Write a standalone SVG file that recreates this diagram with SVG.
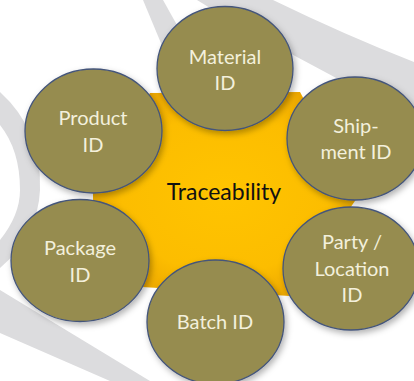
<svg xmlns="http://www.w3.org/2000/svg" width="414" height="381" viewBox="0 0 414 381">
  <defs>
    <style>
      .wm { fill: #DCDCDE; }
      .node { fill: #968C50; stroke: #44557A; stroke-width: 1.3; filter: url(#shadow); }
      .lbl { font-family: Lato, "Open Sans", "Liberation Sans", sans-serif; font-size: 20px; fill: #F3F0DC; text-anchor: middle; }
      .core-lbl { font-family: Lato, "Open Sans", "Liberation Sans", sans-serif; font-size: 23px; fill: #111111; text-anchor: middle; }
    </style>
    <radialGradient id="coreGrad" cx="50%" cy="50%" r="60%">
      <stop offset="0%" stop-color="#FFC400"/>
      <stop offset="65%" stop-color="#FCBD00"/>
      <stop offset="100%" stop-color="#E9A200"/>
    </radialGradient>
    <filter id="shadow" x="-20%" y="-20%" width="150%" height="150%">
      <feDropShadow dx="2" dy="3" stdDeviation="3" flood-color="#000000" flood-opacity="0.3"/>
    </filter>
  </defs>
  <rect width="414" height="381" fill="#FFFFFF"/>
  <g id="watermark">
    <path class="wm" d="M143,0 L163,0 L182,34 L168,60 Z"/>
    <path class="wm" d="M197,0 L273,0 Q345,35 414,62 L414,125 L340,80 L297,57 Q245,30 197,0 Z"/>
    <path class="wm" d="M0,92 Q42,130 40,190 Q38,235 0,268 L0,240 Q20,215 20,190 Q20,150 0,125 Z"/>
    <path class="wm" d="M0,290 L0,333 L110,381 L150,381 Z"/>
  </g>
  <g id="core">
    <path d="M150,93 L300,92 L357,198 L290,296 L142,287 L93,202 L93,190 Z" fill="url(#coreGrad)"/>
    <text class="core-lbl" x="224" y="200">Traceability</text>
  </g>
  <g id="connectors"/>
  <g id="material">
    <ellipse class="node" cx="225" cy="68.5" rx="68" ry="62"/>
    <text class="lbl" x="225" y="64">Material</text>
    <text class="lbl" x="225" y="90">ID</text>
  </g>
  <g id="product">
    <ellipse class="node" cx="93.5" cy="131" rx="68.5" ry="62"/>
    <text class="lbl" x="93" y="125">Product</text>
    <text class="lbl" x="93" y="152">ID</text>
  </g>
  <g id="shipment">
    <ellipse class="node" cx="355" cy="138.5" rx="68" ry="61.5"/>
    <text class="lbl" x="356" y="133">Ship-</text>
    <text class="lbl" x="356" y="159">ment ID</text>
  </g>
  <g id="package">
    <ellipse class="node" cx="80" cy="260.5" rx="69" ry="61"/>
    <text class="lbl" x="80" y="255">Package</text>
    <text class="lbl" x="80" y="282">ID</text>
  </g>
  <g id="party-location">
    <ellipse class="node" cx="351" cy="268.5" rx="68" ry="61.5"/>
    <text class="lbl" x="352" y="249">Party /</text>
    <text class="lbl" x="352" y="276">Location</text>
    <text class="lbl" x="352" y="302">ID</text>
  </g>
  <g id="batch">
    <ellipse class="node" cx="215.5" cy="322" rx="68.5" ry="62"/>
    <text class="lbl" x="215" y="329">Batch ID</text>
  </g>
</svg>
